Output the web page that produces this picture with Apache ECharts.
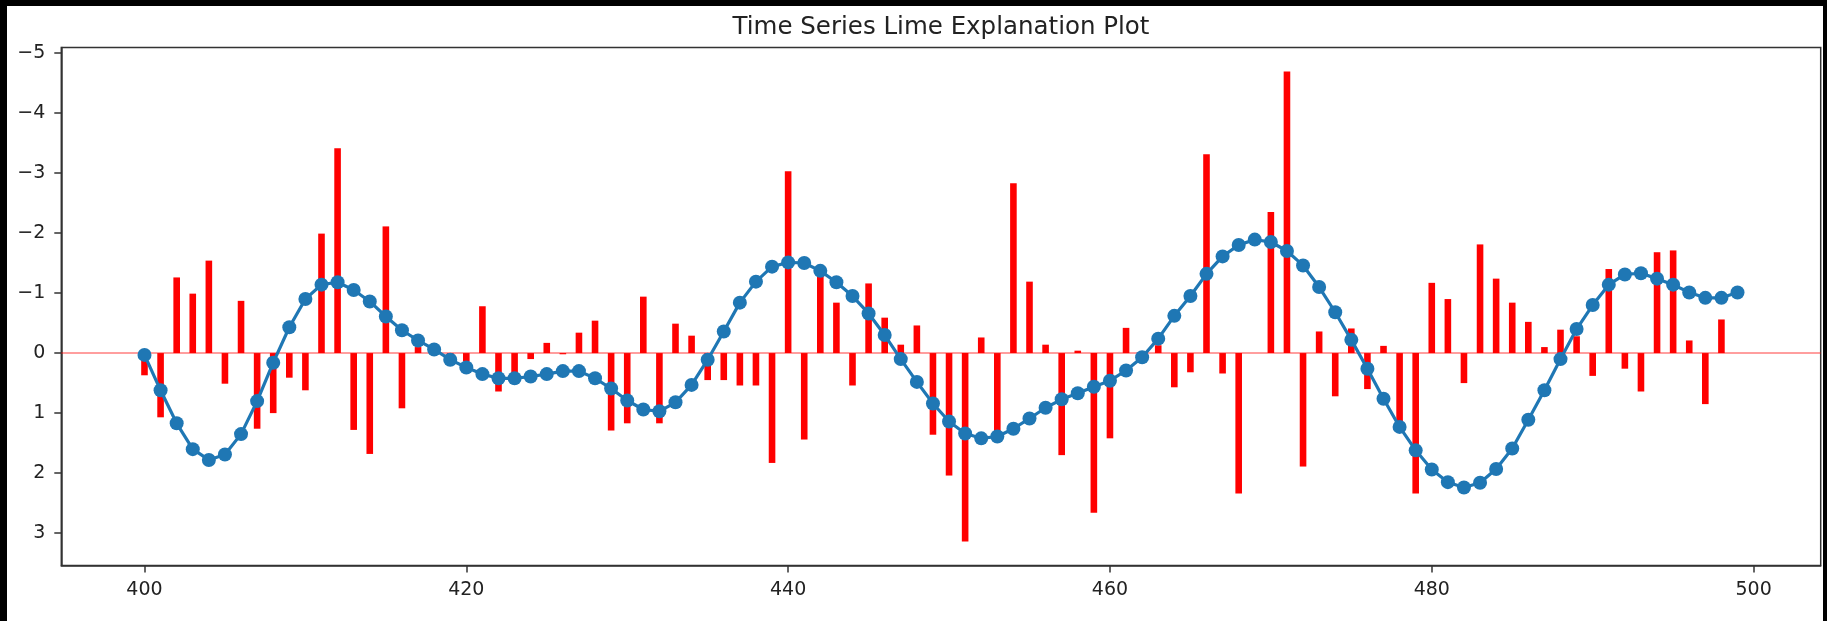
<!DOCTYPE html>
<html>
<head>
<meta charset="utf-8">
<script src="https://cdn.jsdelivr.net/npm/echarts@6/dist/echarts.min.js"></script>
<style>
  html, body { margin: 0; padding: 0; background: #000; width: 1827px; height: 621px; overflow: hidden; }
  #chart { position: absolute; left: 7px; top: 6px; width: 1816px; height: 615px; background: #fff; }
</style>
</head>
<body>
<div id="chart"></div>
<script>
const titleText = 'Time Series Lime Explanation Plot';
const timeSteps = [];
for (let t = 400; t <= 499; t++) timeSteps.push(t);

const limeWeights = [
  0.37, 1.07, -1.26, -0.99, -1.54, 0.51, -0.87, 1.26, 1.00, 0.41,
  0.62, -1.99, -3.41, 1.28, 1.68, -2.11, 0.92, -0.10, -0.04, 0.06,
  0.14, -0.78, 0.64, 0.34, 0.10, -0.17, 0.02, -0.34, -0.54, 1.29,
  1.17, -0.94, 1.17, -0.49, -0.29, 0.45, 0.45, 0.54, 0.54, 1.83,
  -3.03, 1.44, -1.37, -0.84, 0.54, -1.16, -0.59, -0.14, -0.46, 1.36,
  2.04, 3.14, -0.26, 1.34, -2.83, -1.19, -0.14, 1.70, -0.04, 2.66,
  1.42, -0.42, 0.02, -0.13, 0.57, 0.32, -3.31, 0.34, 2.34, 0.00,
  -2.35, -4.69, 1.89, -0.36, 0.72, -0.41, 0.60, -0.12, 1.20, 2.34,
  -1.17, -0.90, 0.50, -1.81, -1.24, -0.84, -0.52, -0.10, -0.39, -0.28,
  0.38, -1.40, 0.26, 0.64, -1.68, -1.71, -0.21, 0.85, -0.56, 0.00
];

const seriesValues = [
  0.03, 0.62, 1.17, 1.60, 1.78, 1.69, 1.35, 0.80, 0.16, -0.43,
  -0.90, -1.14, -1.18, -1.05, -0.86, -0.61, -0.38, -0.21, -0.06, 0.11,
  0.24, 0.35, 0.42, 0.42, 0.39, 0.35, 0.30, 0.30, 0.42, 0.59,
  0.79, 0.94, 0.97, 0.82, 0.53, 0.11, -0.36, -0.84, -1.19, -1.44,
  -1.51, -1.50, -1.37, -1.18, -0.95, -0.66, -0.30, 0.10, 0.48, 0.84,
  1.14, 1.34, 1.42, 1.39, 1.26, 1.09, 0.91, 0.77, 0.67, 0.56,
  0.46, 0.29, 0.07, -0.24, -0.62, -0.95, -1.32, -1.61, -1.80, -1.89,
  -1.85, -1.70, -1.46, -1.10, -0.68, -0.22, 0.26, 0.76, 1.23, 1.62,
  1.94, 2.15, 2.24, 2.16, 1.93, 1.59, 1.11, 0.62, 0.10, -0.40,
  -0.80, -1.14, -1.31, -1.33, -1.24, -1.14, -1.01, -0.92, -0.92, -1.01
];

const xTicks = [400, 420, 440, 460, 480, 500];
const yTicks = [-5, -4, -3, -2, -1, 0, 1, 2, 3];

const barData = timeSteps.map((t, i) => [t, limeWeights[i]]);
const lineData = timeSteps.map((t, i) => [t, seriesValues[i]]);

const FONT = 'DejaVu Sans';
const chart = echarts.init(document.getElementById('chart'), null, { renderer: 'canvas' });

const gridLeft = 54.3, gridTop = 41.5, gridRight = 2.3, gridBottom = 55.4;
const plotCenterX = gridLeft + (1816 - gridLeft - gridRight) / 2;

chart.setOption({
  animation: false,
  backgroundColor: '#fff',
  graphic: [{
    type: 'text',
    x: plotCenterX,
    y: 21.5,
    style: {
      text: titleText,
      font: '24.5px "DejaVu Sans"',
      fill: '#222',
      textAlign: 'center',
      textVerticalAlign: 'middle'
    }
  }],
  grid: {
    left: gridLeft, top: gridTop, right: gridRight, bottom: gridBottom,
    show: true, borderColor: '#333', borderWidth: 1.5, backgroundColor: 'transparent'
  },
  xAxis: {
    type: 'value',
    min: 394.83,
    max: 504.17,
    splitLine: { show: false },
    axisLine: { show: true, onZero: false, lineStyle: { color: '#333', width: 1.5 } },
    axisTick: { show: true, inside: false, length: 7, customValues: xTicks, lineStyle: { color: '#333', width: 1.5 } },
    axisLabel: {
      customValues: xTicks,
      margin: 15,
      fontFamily: FONT, fontSize: 19, color: '#222'
    }
  },
  yAxis: {
    type: 'value',
    inverse: true,
    min: -5.09,
    max: 3.54,
    splitLine: { show: false },
    axisLine: { show: true, onZero: false, lineStyle: { color: '#333', width: 1.5 } },
    axisTick: { show: true, inside: false, length: 7, customValues: yTicks, lineStyle: { color: '#333', width: 1.5 } },
    axisLabel: {
      customValues: yTicks,
      margin: 16,
      fontFamily: FONT, fontSize: 19, color: '#222',
      formatter: v => String(v).replace('-', '\u2212')
    }
  },
  series: [
    {
      type: 'bar',
      data: barData,
      barWidth: 6.6,
      itemStyle: { color: '#ff0000' },
      z: 2,
      silent: true,
      markLine: {
        silent: true,
        symbol: 'none',
        label: { show: false },
        lineStyle: { color: 'rgba(255,0,0,0.38)', width: 2.2, type: 'solid' },
        data: [{ yAxis: 0 }],
        z: 1
      }
    },
    {
      type: 'line',
      data: lineData,
      symbol: 'circle',
      symbolSize: 14,
      showAllSymbol: true,
      lineStyle: { color: '#1f77b4', width: 3.2 },
      itemStyle: { color: '#1f77b4' },
      z: 3,
      silent: true
    }
  ]
});
</script>
</body>
</html>
